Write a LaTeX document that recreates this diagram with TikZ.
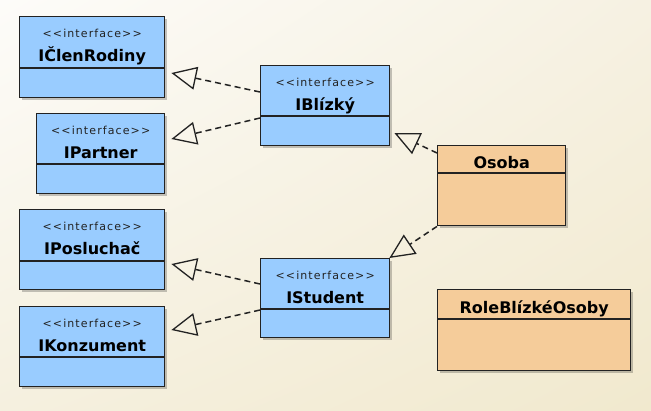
\documentclass[tikz,border=0pt]{standalone}
\usepackage{fontspec}
\newfontfamily\namefont{DejaVu Sans}
\newfontfamily\stfont{DejaVu Sans}[LetterSpace=10]
\usetikzlibrary{arrows.meta,shadows,shadings,calc}
\definecolor{ifill}{HTML}{99CCFF}
\definecolor{cfill}{HTML}{F5CC9A}
\definecolor{edge}{HTML}{222222}
\definecolor{bgA}{HTML}{FDFCF9}
\definecolor{bgB}{HTML}{F6F1E2}
\definecolor{bgC}{HTML}{F5F0DF}
\definecolor{bgD}{HTML}{F1E9CE}
\begin{document}
\begin{tikzpicture}[x=1pt,y=-1pt,
  box/.style={draw=edge, line width=1.4pt, anchor=north west, inner sep=0pt,
    drop shadow={shadow xshift=2.5pt,shadow yshift=-2.5pt,opacity=0.22,fill=black}},
  iface/.style={box, fill=ifill},
  cls/.style={box, fill=cfill},
  divline/.style={draw=edge, line width=1.2pt},
  stereo/.style={font=\stfont\fontsize{11}{13}\selectfont, text=edge, inner sep=0pt, anchor=base},
  cname/.style={font=\namefont\bfseries\fontsize{16}{19}\selectfont, text=black, inner sep=0pt, anchor=base},
  real/.style={draw=edge, line width=1.5pt, dash pattern=on 6pt off 4pt,
    -{Triangle[open, length=25pt, width=23pt, line width=1.3pt]}},
]
\shade[upper left=bgA, upper right=bgB, lower left=bgC, lower right=bgD] (0,0) rectangle (651,410);
\useasboundingbox (0,0) rectangle (651,410);

% interfaces
\node[iface, minimum width=145pt, minimum height=81pt] (clen) at (19,16) {};
\node[iface, minimum width=128pt, minimum height=80pt] (partner) at (36,113) {};
\node[iface, minimum width=129pt, minimum height=80pt] (bliz) at (260,65) {};
\node[iface, minimum width=145pt, minimum height=80pt] (posl) at (19,209) {};
\node[iface, minimum width=145pt, minimum height=80pt] (konz) at (19,306) {};
\node[iface, minimum width=129pt, minimum height=79pt] (stud) at (260,258) {};
% classes
\node[cls, minimum width=128pt, minimum height=80pt] (osoba) at (437,145) {};
\node[cls, minimum width=193pt, minimum height=81pt] (role) at (437,289) {};

% dividers
\draw[divline] ($(clen.north west)+(0,52)$) -- ($(clen.north east)+(0,52)$);
\draw[divline] ($(partner.north west)+(0,51)$) -- ($(partner.north east)+(0,51)$);
\draw[divline] ($(bliz.north west)+(0,51)$) -- ($(bliz.north east)+(0,51)$);
\draw[divline] ($(posl.north west)+(0,52)$) -- ($(posl.north east)+(0,52)$);
\draw[divline] ($(konz.north west)+(0,51)$) -- ($(konz.north east)+(0,51)$);
\draw[divline] ($(stud.north west)+(0,51)$) -- ($(stud.north east)+(0,51)$);
\draw[divline] ($(osoba.north west)+(0,28)$) -- ($(osoba.north east)+(0,28)$);
\draw[divline] ($(role.north west)+(0,30)$) -- ($(role.north east)+(0,30)$);

% texts
\node[stereo] (clenS) at ($(clen.north)+(0,21)$) {<<interface>>};
\node[cname] (clenN) at ($(clen.north)+(0,45)$) {IČlenRodiny};
\node[stereo] (partnerS) at ($(partner.north)+(0,21)$) {<<interface>>};
\node[cname] (partnerN) at ($(partner.north)+(0,45)$) {IPartner};
\node[stereo] (blizS) at ($(bliz.north)+(0,21)$) {<<interface>>};
\node[cname] (blizN) at ($(bliz.north)+(0,45)$) {IBlízký};
\node[stereo] (poslS) at ($(posl.north)+(0,21)$) {<<interface>>};
\node[cname] (poslN) at ($(posl.north)+(0,45)$) {IPosluchač};
\node[stereo] (konzS) at ($(konz.north)+(0,21)$) {<<interface>>};
\node[cname] (konzN) at ($(konz.north)+(0,45)$) {IKonzument};
\node[stereo] (studS) at ($(stud.north)+(0,21)$) {<<interface>>};
\node[cname] (studN) at ($(stud.north)+(0,45)$) {IStudent};
\node[cname] (osobaN) at ($(osoba.north)+(0,23)$) {Osoba};
\node[cname] (roleN) at ($(role.north)+(0,24)$) {RoleBlízkéOsoby};

% realizations
\draw[real] ($(bliz.north west)+(0,27)$) -- ($(clen.north east)+(6,57)$);
\draw[real] ($(bliz.north west)+(0,53)$) -- ($(partner.north east)+(6,26)$);
\draw[real] ($(stud.north west)+(0,26)$) -- ($(posl.north east)+(6,55)$);
\draw[real] ($(stud.north west)+(0,52)$) -- ($(konz.north east)+(6,24)$);
\draw[real] ($(osoba.north west)+(0,8)$) -- ($(bliz.north east)+(4,68)$);
\draw[real] (osoba.south west) -- ($(stud.north east)+(-1,0)$);
\end{tikzpicture}
\end{document}
